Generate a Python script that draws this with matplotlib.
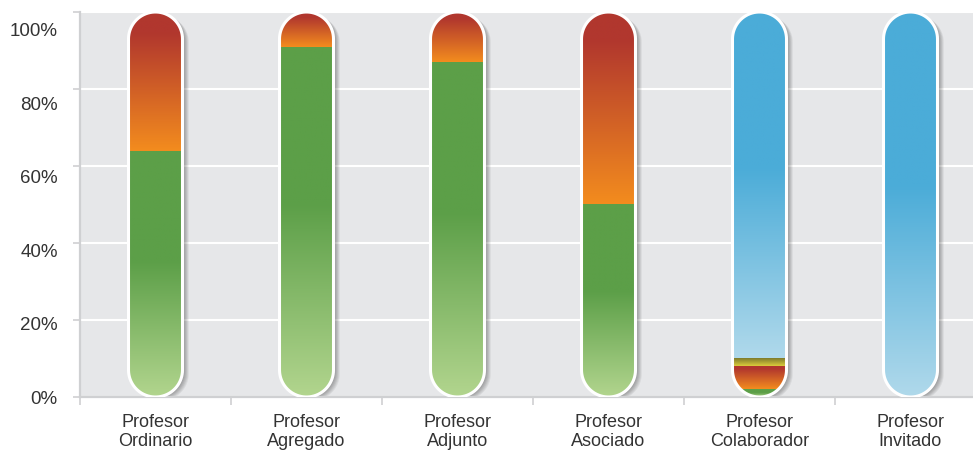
import numpy as np
import matplotlib
matplotlib.use("Agg")
import matplotlib.pyplot as plt
from matplotlib.path import Path
from matplotlib.patches import PathPatch
from matplotlib.colors import to_rgb
import matplotlib.transforms as mtransforms

plt.rcParams['font.family'] = ['Liberation Sans', 'DejaVu Sans']

# Datos (porcentaje por categoría)
categorias = ["Profesor\nOrdinario", "Profesor\nAgregado", "Profesor\nAdjunto",
              "Profesor\nAsociado", "Profesor\nColaborador", "Profesor\nInvitado"]
verde = [64, 91, 87, 50, 2, 0]
rojo = [36, 9, 13, 50, 6, 0]
amarillo = [0, 0, 0, 0, 2, 0]
azul = [0, 0, 0, 0, 90, 100]
yticks = [0, 20, 40, 60, 80, 100]
ytick_labels = ["0%", "20%", "40%", "60%", "80%", "100%"]

# Gradientes: (color abajo, color arriba, fracción donde termina el degradado)
estilos = [
    (verde, "#b2d58e", "#5c9f48", 0.55),
    (rojo, "#f38c1e", "#b1372e", 0.85),
    (amarillo, "#dccd3c", "#7e7a2c", 1.0),
    (azul, "#b0d9eb", "#4bacd8", 0.55),
]

W, H, DPI = 9.73, 4.5, 100
fig = plt.figure(figsize=(W, H), dpi=DPI)
pos = [80 / 973, 53 / 450, 906 / 973, 385 / 450]
ax = fig.add_axes(pos)
ax.set_xlim(0, len(categorias))
ax.set_ylim(0, 100)
ax.set_facecolor("#e6e7e9")

for s in ["top", "right"]:
    ax.spines[s].set_visible(False)
for s in ["left", "bottom"]:
    ax.spines[s].set_color("#cfd0d2")
    ax.spines[s].set_linewidth(1.6)

ax.set_yticks(yticks)
ax.set_yticklabels([])
ax.tick_params(axis="y", length=5, width=1.2, color="#cfd0d2")
ax.yaxis.grid(True, color="white", linewidth=1.5)
ax.set_axisbelow(True)

x = np.arange(len(categorias)) + 0.5
ax.set_xticks(x)
ax.set_xticklabels(categorias, fontsize=13, color="#333333", linespacing=1.15)
ax.tick_params(axis="x", length=0, pad=12)
ax.set_xticks(np.arange(len(categorias) + 1), minor=True)
ax.tick_params(axis="x", which="minor", length=6, width=1.2, color="#cfd0d2")

# eje de etiquetas (las etiquetas del original no coinciden con las líneas)
ax_lab = fig.add_axes(pos)
ax_lab.set_ylim(0, 104.9)
ax_lab.set_yticks(yticks)
ax_lab.set_yticklabels(ytick_labels, fontsize=13.5, color="#333333")
ax_lab.tick_params(axis="y", length=0, pad=16)
ax_lab.set_xticks([])
ax_lab.patch.set_visible(False)
for s in ax_lab.spines.values():
    s.set_visible(False)

# escala px por unidad
px_x = pos[2] * W * DPI / len(categorias)
px_y = pos[3] * H * DPI / 100
r_px = 27
rx = r_px / px_x
ry = r_px / px_y


def capsula(xc, y0=0, y1=100):
    t = np.linspace(0, np.pi, 40)
    top_x = xc + rx * np.cos(t)
    top_y = (y1 - ry) + ry * np.sin(t)
    bot_x = xc - rx * np.cos(t)
    bot_y = (y0 + ry) - ry * np.sin(t)
    xs = np.concatenate([top_x, bot_x, [top_x[0]]])
    ys = np.concatenate([top_y, bot_y, [top_y[0]]])
    return Path(np.column_stack([xs, ys]), closed=True)


def degradado(c0, c1, frac, n=200):
    t = np.linspace(0, 1, n)
    f = np.clip(t / frac, 0, 1)[:, None]
    a, b = np.array(to_rgb(c0)), np.array(to_rgb(c1))
    return (a + (b - a) * f)[:, None, :]


for i, xc in enumerate(x):
    path = capsula(xc)
    # sombra
    for k in range(1, 8):
        tr = mtransforms.offset_copy(ax.transData, fig=fig, x=k * 0.9, y=-k * 0.5, units="dots")
        ax.add_patch(PathPatch(path, transform=tr, facecolor="black", edgecolor="none",
                               alpha=0.06, zorder=2))
    clip = PathPatch(path, transform=ax.transData, facecolor="none", edgecolor="none", zorder=3)
    ax.add_patch(clip)
    base = 0
    for serie, c0, c1, frac in estilos:
        v = serie[i]
        if v <= 0:
            continue
        im = ax.imshow(degradado(c0, c1, frac), extent=[xc - rx, xc + rx, base, base + v],
                       origin="lower", aspect="auto", interpolation="bilinear", zorder=3)
        im.set_clip_path(clip)
        base += v
    ax.add_patch(PathPatch(path, transform=ax.transData, facecolor="none",
                           edgecolor="white", linewidth=2.2, zorder=4))

ax.set_xlim(0, len(categorias))
ax.set_ylim(0, 100)

fig.savefig("out.png", dpi=DPI)
